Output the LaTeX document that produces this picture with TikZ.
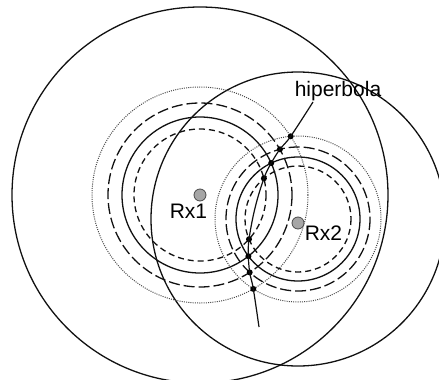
\documentclass[tikz,border=0pt]{standalone}
\usepackage{fontspec}
\setmainfont{Liberation Sans}
\usepackage{xcolor}
\usepackage{tikz}
\usetikzlibrary{positioning, calc}
\definecolor{loc-dark}{HTML}{111111}
\definecolor{loc-gray}{HTML}{4A4A4A}
\definecolor{loc-fill}{HTML}{A6A6A6}

\begin{document}
\begin{tikzpicture}[x=1pt, y=-1pt,
    ring/.style={draw=loc-dark, line width=1.3pt},
    ringlong/.style={ring, dash pattern=on 11pt off 4pt},
    ringshort/.style={ring, dash pattern=on 6pt off 4pt},
    ringdot/.style={draw=loc-gray, line width=1pt, dash pattern=on 1pt off 1.2pt},
    rx/.style={circle, draw=loc-gray, fill=loc-fill, line width=0.8pt,
               minimum size=12pt, inner sep=0pt},
    hit/.style={circle, fill=black, minimum size=6pt, inner sep=0pt},
    lbl/.style={font=\fontsize{21}{22}\selectfont, inner sep=0pt},
]
    \useasboundingbox (0,0) rectangle (439,380);
    \clip (0,0) rectangle (439,380);
    \fill[white] (0,0) rectangle (439,380);

    % receivers
    \coordinate (c1) at (200,195);
    \coordinate (c2) at (298,219);

    % range circles
    \draw[ring] (c1) circle[radius=188];
    \draw[ring] (c2) circle[radius=147];
    \draw[ringdot] (c1) circle[radius=108];
    \draw[ringlong] (c1) circle[radius=92];
    \draw[ring] (c1) circle[radius=78];
    \draw[ringshort] (c1) circle[radius=66];
    \draw[ringdot] (c2) circle[radius=83];
    \draw[ringlong] (c2) circle[radius=72];
    \draw[ring] (c2) circle[radius=62];
    \draw[ringshort] (c2) circle[radius=53];

    % crossing points
    \coordinate (top) at (313,102);
    \coordinate (bot) at (259,327);
    \node[hit] (u4) at (290.7,136.3) {};
    \node[hit] (u3) at (279.9,149.3) {};
    \node[hit] (u2) at (271.2,163.1) {};
    \node[hit] (u1) at (263.9,178.4) {};
    \node[hit] (d1) at (249.0,239.2) {};
    \node[hit] (d2) at (248.4,256.2) {};
    \node[hit] (d3) at (249.7,272.4) {};
    \node[hit] (d4) at (253.3,288.9) {};

    \draw[ring, line width=1.2pt] plot[smooth, tension=0.6]
        coordinates {(top) (u4) (u3) (u2) (u1) (255,208) (d1) (d2) (d3) (d4) (bot)};

    \node[rx] (rx1) at (c1) {};
    \node[rx] (rx2) at (298,223) {};
    \node[lbl, anchor=base] (t1) at (188.5,218) {Rx1};
    \node[lbl, anchor=base] (t2) at (323.5,240) {Rx2};
    \node[lbl, anchor=base] (hb) at (338,96) {hiperbola};
\end{tikzpicture}
\end{document}
